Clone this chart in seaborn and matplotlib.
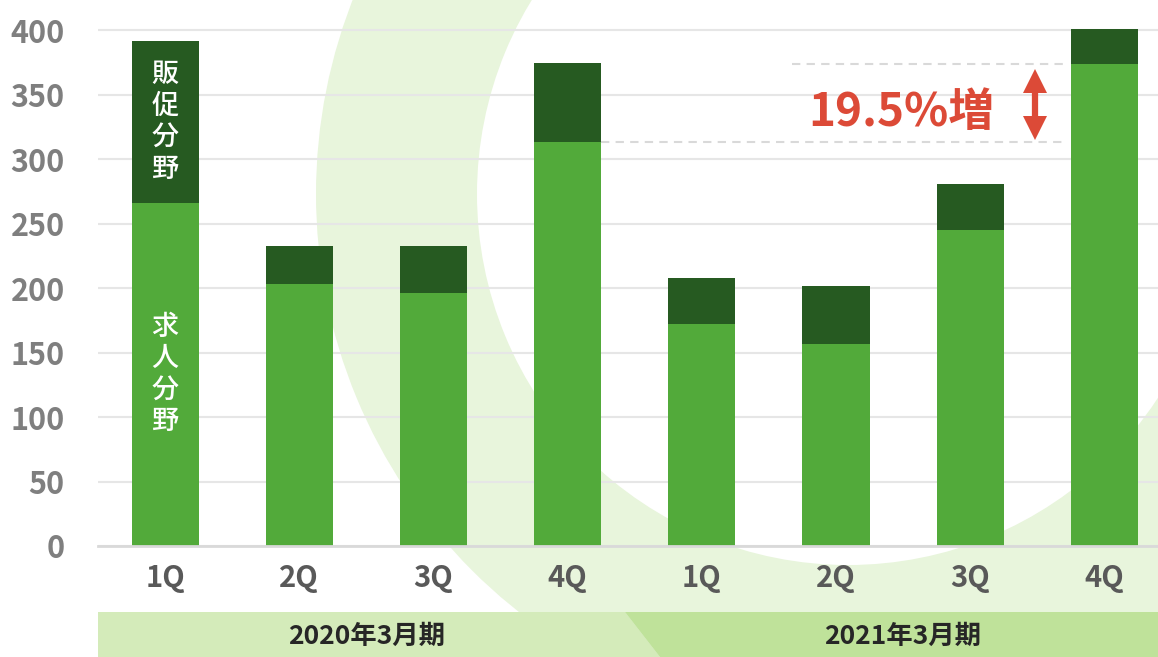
import numpy as np
import pandas as pd
import matplotlib
matplotlib.use('Agg')
import matplotlib.pyplot as plt
from matplotlib import patches, transforms
import seaborn as sns

# quarterly sales, stacked: recruiting + sales promotion
quarters = ['1Q', '2Q', '3Q', '4Q', '1Q', '2Q', '3Q', '4Q']
periods = ['2020年3月期', '2021年3月期']
recruit = [266, 203, 196, 313, 172, 157, 245, 374]
promo = [126, 30, 37, 62, 36, 45, 36, 27]
growth_label = '19.5%増'

light = '#52AA3A'
dark = '#265A21'
red = '#DC4A37'

sns.set_style('white')
plt.rcParams['font.family'] = ['Noto Sans CJK JP', 'DejaVu Sans']

fig = plt.figure(figsize=(11.58, 6.57), dpi=100)

# background: big ring + period band (pixel coords)
bg = fig.add_axes([0, 0, 1, 1], zorder=0)
bg.set_xlim(0, 1158)
bg.set_ylim(657, 0)
bg.axis('off')
bg.add_patch(patches.Wedge((848, 194), 532, 0, 360, width=161,
                           facecolor='#E8F5DC', edgecolor='none', zorder=1))
bg.add_patch(patches.Polygon([(98, 612), (625, 612), (660, 657), (98, 657)],
                             facecolor='#D4EBBA', edgecolor='none', zorder=2))
bg.add_patch(patches.Polygon([(625, 612), (1158, 612), (1158, 657), (660, 657)],
                             facecolor='#BFE29A', edgecolor='none', zorder=2))

ax = fig.add_axes([98 / 1158, 111 / 657, 1060 / 1158, 526 / 657], zorder=1)
ax.patch.set_alpha(0)

df = pd.DataFrame({'pos': range(len(quarters)), 'recruit': recruit, 'promo': promo})
df['total'] = df['recruit'] + df['promo']

sns.barplot(data=df, x='pos', y='total', color=dark, width=0.5, saturation=1,
            linewidth=0, ax=ax)
sns.barplot(data=df, x='pos', y='recruit', color=light, width=0.5, saturation=1,
            linewidth=0, ax=ax)

ax.set_xlim(-0.5, 7.4)
ax.set_ylim(0, 408)
ax.set_yticks(range(0, 401, 50))
ax.set_xticks(range(len(quarters)))
ax.set_xticklabels(quarters)
ax.set_xlabel('')
ax.set_ylabel('')
ax.grid(axis='y', color='#E6E6E6', lw=1.5)
ax.set_axisbelow(True)
for s in ['top', 'left', 'right']:
    ax.spines[s].set_visible(False)
ax.spines['bottom'].set_color('#D9D9D9')
ax.spines['bottom'].set_linewidth(2)
ax.tick_params(axis='y', length=0, pad=24, labelsize=22, labelcolor='#7F7F7F')
ax.tick_params(axis='x', length=0, pad=12, labelsize=21, labelcolor='#595959')
for lbl in ax.get_xticklabels() + ax.get_yticklabels():
    lbl.set_fontweight('bold')

# labels inside the first bar
ax.text(0, recruit[0] + promo[0] / 2, '\n'.join('販促分野'), ha='center', va='center',
        color='white', fontsize=19.5, linespacing=1.22, fontweight='medium')
ax.text(0, recruit[0] / 2, '\n'.join('求人分野'), ha='center', va='center',
        color='white', fontsize=19.5, linespacing=1.22, fontweight='medium')

# growth annotation: dashed guides + double arrow
ax.hlines(recruit[7], 4.67, 6.71, colors='#D9D9D9', linestyles=(0, (4, 3)), lw=1.5)
ax.hlines(recruit[3], 3.25, 6.71, colors='#D9D9D9', linestyles=(0, (4, 3)), lw=1.5)
arrow_x = 6.48
top_tip, bot_tip = recruit[7] - 4, recruit[3] + 2
head = 9  # half of head height in data units
ax.vlines(arrow_x, bot_tip + head, top_tip - head, colors=red, lw=4.5)
ax.plot([arrow_x], [top_tip - head], marker='^', ms=17, color=red, mew=0)
ax.plot([arrow_x], [bot_tip + head], marker='v', ms=17, color=red, mew=0)
ax.text(5.49, 336, growth_label, ha='center', va='center', color=red,
        fontsize=33, fontweight='bold')

# period labels in the band
trans = transforms.blended_transform_factory(ax.transData, fig.transFigure)
ax.text(1.5, 1 - 636 / 657, periods[0], transform=trans, ha='center', va='center',
        fontsize=19, fontweight='bold', color='#262626')
ax.text(5.5, 1 - 636 / 657, periods[1], transform=trans, ha='center', va='center',
        fontsize=19, fontweight='bold', color='#262626')

fig.savefig('out.png', dpi=100)
